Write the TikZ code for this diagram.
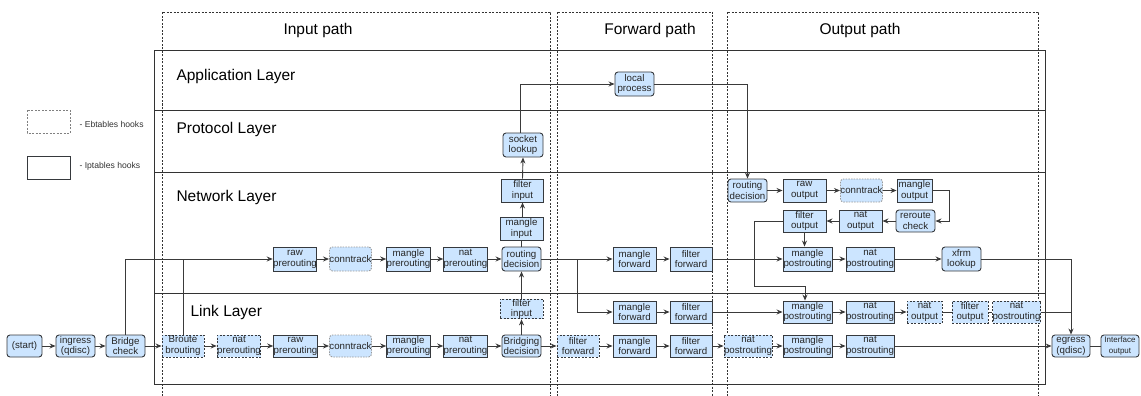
\documentclass[tikz,border=0pt]{standalone}
\usepackage{fontspec}
\setmainfont{Liberation Sans}
\usetikzlibrary{arrows.meta}
\definecolor{hook}{HTML}{CCE5FF}
\definecolor{edge}{HTML}{36393D}
\definecolor{wirec}{HTML}{3A3A3A}
\definecolor{frame}{HTML}{333333}
\tikzset{
  hk/.style={draw=edge, fill=hook, line width=0.9pt, inner sep=0pt, align=center,
    font=\fontsize{9.7}{10.8}\selectfont, text=black!85, minimum height=22pt},
  ip/.style={hk},
  ipr/.style={hk, rounded corners=3pt},
  eb/.style={hk, dash pattern=on 2pt off 1.5pt},
  ebr/.style={hk, draw=gray!80, dash pattern=on 1.5pt off 1.2pt, rounded corners=3pt},
  wire/.style={draw=wirec, line width=0.9pt},
  arr/.style={wire, -{Stealth[length=6pt,width=5pt]}},
  colbox/.style={draw=frame, line width=0.7pt, dash pattern=on 2pt off 1.5pt},
  layer/.style={anchor=west, font=\fontsize{15.5}{18}\selectfont, text=black},
  title/.style={font=\fontsize{15.5}{18}\selectfont, text=black},
  legtext/.style={anchor=west, font=\fontsize{8.6}{10}\selectfont, text=black!80},
}
\begin{document}
\begin{tikzpicture}[x=1pt, y=-1pt]
\useasboundingbox (0,0) rectangle (1141,396);
% column frames (dashed)
\draw[colbox] (162,396) -- (162,12) -- (550,12) -- (550,396);
\draw[colbox] (557,396) -- (557,12) -- (712,12) -- (712,396);
\draw[colbox] (727,396) -- (727,12) -- (1038,12) -- (1038,396);
\node[title] (tin) at (318,30) {Input path};
\node[title] (tfw) at (650,30) {Forward path};
\node[title] (tout) at (860,30) {Output path};
% layer frame
\draw[draw=frame, line width=0.9pt] (154,50) rectangle (1045,384);
\draw[draw=frame, line width=0.9pt] (154,110) -- (1045,110);
\draw[draw=frame, line width=0.9pt] (154,172) -- (1045,172);
\draw[draw=frame, line width=0.9pt] (154,293) -- (1045,293);
\node[layer] (lapp) at (173,76) {Application Layer};
\node[layer] (lpro) at (173,129) {Protocol Layer};
\node[layer] (lnet) at (173,197) {Network Layer};
\node[layer] (llnk) at (187,312) {Link Layer};
% legend
\draw[draw=gray, line width=0.7pt, dash pattern=on 2pt off 1.5pt] (27,110) rectangle (70,133);
\node[legtext] (leb) at (76,124) {- Ebtables hooks};
\draw[draw=edge, line width=0.9pt] (27,156) rectangle (70,179);
\node[legtext] (lip) at (76,166) {- Iptables hooks};

% ---------- nodes: link layer bottom row ----------
\node[ipr, minimum width=35pt] (start) at (24.5,346) {(start)};
\node[ipr, minimum width=39pt] (ingress) at (75.5,346) {ingress\\(qdisc)};
\node[ipr, minimum width=39pt] (bridge) at (125.5,346) {Bridge\\check};
\node[eb, minimum width=42pt] (broute) at (183,346) {Broute\\brouting};
\node[eb, minimum width=42pt] (natpreE) at (239,346) {nat\\prerouting};
\node[ip, minimum width=43pt] (rawpreA) at (295.5,346) {raw\\prerouting};
\node[ebr, minimum width=39pt] (ctA) at (350.5,346) {conntrack};
\node[ip, minimum width=43pt] (mprA) at (408.5,346) {mangle\\prerouting};
\node[ip, minimum width=43pt] (nprA) at (465.5,346) {nat\\prerouting};
\node[ipr, minimum width=39pt] (bridging) at (521.5,346) {Bridging\\decision};
\node[eb, minimum width=42pt] (ffwdE) at (578,346) {filter\\forward};
\node[ip, minimum width=43pt] (mfwdA) at (634.5,346) {mangle\\forward};
\node[ip, minimum width=42pt] (ffwdA) at (691,346) {filter\\forward};
\node[eb, minimum width=42pt] (npostE) at (748,346) {nat\\postrouting};
\node[ip, minimum width=49pt] (mpostA) at (807.5,346) {mangle\\postrouting};
\node[ip, minimum width=46pt] (npostA) at (870,346) {nat\\postrouting};
\node[ipr, minimum width=38pt] (egress) at (1071,346) {egress\\(qdisc)};
\node[ipr, minimum width=38pt, font=\fontsize{8}{10.5}\selectfont] (iface) at (1120,346) {Interface\\output};

% ---------- link layer upper row ----------
\node[eb, minimum width=43pt, minimum height=16pt] (finE) at (521.5,309) {filter\\input};
\node[ip, minimum width=43pt] (mfwdB) at (634.5,312) {mangle\\forward};
\node[ip, minimum width=42pt] (ffwdB) at (691,312) {filter\\forward};
\node[ip, minimum width=49pt] (mpostB) at (807.5,312) {mangle\\postrouting};
\node[ip, minimum width=46pt] (npostB) at (870,312) {nat\\postrouting};
\node[eb, minimum width=35pt] (noutE) at (924.5,312) {nat\\output};
\node[eb, minimum width=36pt] (foutE) at (970,312) {filter\\output};
\node[eb, minimum width=43pt] (npostF) at (1016.5,312) {nat\\postrouting};

% ---------- network layer ----------
\node[ip, minimum width=42pt, minimum height=24pt] (rawpreB) at (295,259) {raw\\prerouting};
\node[ebr, minimum width=39pt, minimum height=24pt] (ctB) at (350.5,259) {conntrack};
\node[ip, minimum width=43pt, minimum height=24pt] (mprB) at (408.5,259) {mangle\\prerouting};
\node[ip, minimum width=43pt, minimum height=24pt] (nprB) at (465.5,259) {nat\\prerouting};
\node[ipr, minimum width=39pt, minimum height=24pt] (routing) at (521.5,259) {routing\\decision};
\node[ip, minimum width=43pt, minimum height=24pt] (mfwdC) at (634.5,259) {mangle\\forward};
\node[ip, minimum width=42pt, minimum height=24pt] (ffwdC) at (691,259) {filter\\forward};
\node[ip, minimum width=49pt, minimum height=24pt] (mpostC) at (807.5,259) {mangle\\postrouting};
\node[ip, minimum width=46pt, minimum height=24pt] (npostC) at (870,259) {nat\\postrouting};
\node[ipr, minimum width=39pt, minimum height=24pt] (xfrm) at (961.5,259) {xfrm\\lookup};

\node[ip, minimum width=43pt, minimum height=23pt] (minput) at (521.5,228.5) {mangle\\input};
\node[ip, minimum width=42pt, minimum height=23pt] (finput) at (522.5,190.5) {filter\\input};
\node[ipr, minimum width=40pt, minimum height=24pt] (sock) at (523,145) {socket\\lookup};
\node[ipr, minimum width=39pt, minimum height=24pt] (lproc) at (634.5,84) {local\\process};

% ---------- output path ----------
\node[ipr, minimum width=39pt, minimum height=23pt] (rdout) at (747.5,190.5) {routing\\decision};
\node[ip, minimum width=43pt, minimum height=23pt] (rawout) at (804.5,190.5) {raw\\output};
\node[ebr, minimum width=39pt, minimum height=23pt] (ctC) at (861.5,190.5) {conntrack};
\node[ip, minimum width=35pt, minimum height=23pt] (mout) at (914.5,190.5) {mangle\\output};
\node[ipr, minimum width=39pt] (reroute) at (915.5,221) {reroute\\check};
\node[ip, minimum width=43pt] (nout) at (860.5,221) {nat\\output};
\node[ip, minimum width=43pt] (fout) at (804.5,221) {filter\\output};

% ---------- connectors ----------
\draw[arr] (start) -- (ingress);
\draw[arr] (ingress) -- (bridge);
\draw[arr] (bridge) -- (broute);
\draw[arr] (broute) -- (natpreE);
\draw[arr] (natpreE) -- (rawpreA);
\draw[arr] (rawpreA) -- (ctA);
\draw[arr] (ctA) -- (mprA);
\draw[arr] (mprA) -- (nprA);
\draw[arr] (nprA) -- (bridging);
\draw[arr] (bridging) -- (ffwdE);
\draw[arr] (ffwdE) -- (mfwdA);
\draw[arr] (mfwdA) -- (ffwdA);
\draw[arr] (ffwdA) -- (npostE);
\draw[arr] (npostE) -- (mpostA);
\draw[arr] (mpostA) -- (npostA);
\draw[arr] (npostA) -- (egress);
\draw[wire] (egress) -- (iface);

\draw[arr] (bridge.north) |- (rawpreB.west);
\draw[wire] (broute.north) -- (broute.north |- rawpreB.west);
\draw[arr] (rawpreB) -- (ctB);
\draw[arr] (ctB) -- (mprB);
\draw[arr] (mprB) -- (nprB);
\draw[arr] (nprB) -- (routing);

\draw[arr] (bridging.north) -- (finE.south);
\draw[arr] (finE.north) -- (routing.south);
\draw[wire] (routing.north) -- (minput.south);
\draw[arr] (minput.north) -- (minput.north -| finput.south) -- (finput.south);
\draw[arr] (finput.north) -- (sock.south);
\draw[arr] ([xshift=-3pt]sock.north) |- (lproc.west);
\draw[arr] (lproc.east) -| (rdout.north);

\draw[arr] (routing.east) -- (mfwdC.west);
\draw[arr] (routing.east) ++(36,0) |- (mfwdB.west);
\draw[arr] (mfwdC) -- (ffwdC);
\draw[arr] (mfwdB) -- (ffwdB);
\draw[arr] (ffwdC) -- (mpostC);
\draw[arr] (ffwdB) -- (mpostB);
\draw[arr] (mpostC) -- (npostC);
\draw[arr] (mpostB) -- (npostB);
\draw[arr] (npostC) -- (xfrm);
\draw[arr] (npostB) -- (noutE);
\draw[wire] (noutE) -- (foutE);
\draw[wire] (foutE) -- (npostF);
\draw[wire] (npostF.east) -- (npostF.east -| egress.north);
\draw[arr] (xfrm.east) -| (egress.north);

\draw[arr] (rdout) -- (rawout);
\draw[arr] (rawout) -- (ctC);
\draw[arr] (ctC) -- (mout);
\draw[arr] (mout.east) -- ++(17,0) |- (reroute.east);
\draw[arr] (reroute) -- (nout);
\draw[arr] (nout) -- (fout);
\draw[arr] (fout.south) -- (fout.south |- mpostC.north);
\draw[arr] (fout.west) -- ++(-28,0) -- ++(0,65) -| ([xshift=-2.5pt]mpostB.north);
\end{tikzpicture}
\end{document}
